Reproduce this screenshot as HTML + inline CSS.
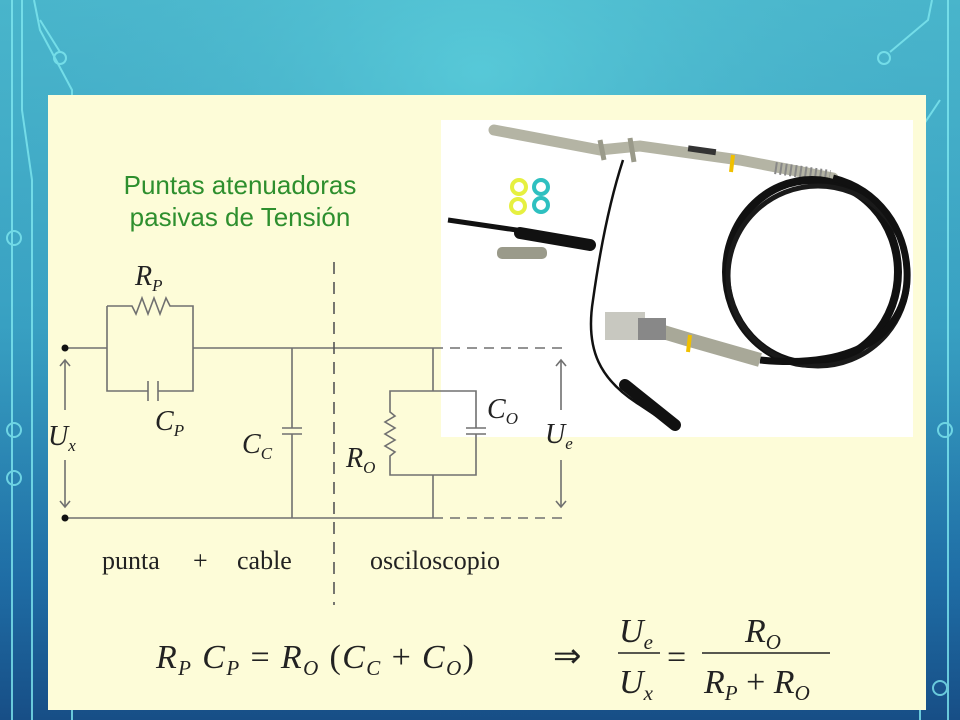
<!DOCTYPE html>
<html><head><meta charset="utf-8"><style>
html,body{margin:0;padding:0;width:960px;height:720px;overflow:hidden}
body{background:linear-gradient(180deg,#4fc3d4 0%,#3aa8c8 45%,#1f6ea6 80%,#174e86 100%)}
svg{position:absolute;left:0;top:0}
</style></head><body>
<svg width="960" height="720" viewBox="0 0 960 720" xmlns="http://www.w3.org/2000/svg">
<defs>
<radialGradient id="bg" cx="0.5" cy="0.1" r="0.9">
<stop offset="0" stop-color="#5fd0dc" stop-opacity="0.6"/><stop offset="1" stop-color="#1a5a92" stop-opacity="0"/>
</radialGradient>
</defs>
<rect width="960" height="720" fill="url(#bg)"/>
<g stroke="#7fe8f0" stroke-width="2" fill="none" opacity="0.8">
<path d="M12 0 V720"/><path d="M22 0 V110 L32 180 V720"/>
<path d="M34 0 L40 30 L72 90 V720"/>
<circle cx="60" cy="58" r="6"/><path d="M60 52 L40 20"/>
<circle cx="14" cy="238" r="7"/><circle cx="14" cy="430" r="7"/><circle cx="14" cy="478" r="7"/>
<path d="M948 0 V720"/><path d="M932 0 L928 20 L890 52"/><circle cx="884" cy="58" r="6"/>
<path d="M940 100 L920 130 V720"/><circle cx="940" cy="688" r="7"/><circle cx="945" cy="430" r="7"/>
</g>
<rect x="48" y="95" width="878" height="615" fill="#fdfcd8"/>
<rect x="441" y="120" width="472" height="317" fill="#ffffff"/>
<g>
<path d="M494 130 L600 150 L640 146 L740 160 L833 178" stroke="#b4b4a4" stroke-width="11" fill="none" stroke-linecap="round"/>
<path d="M600 140 L604 160 M630 138 L634 162" stroke="#9a9a8a" stroke-width="5"/>
<rect x="688" y="147" width="28" height="6" fill="#333" transform="rotate(8 700 150)"/>
<path d="M733 155 L731 172" stroke="#f0c000" stroke-width="4"/>
<path d="M775 168 L830 176" stroke="#888" stroke-width="12" stroke-dasharray="2 3"/>
<ellipse cx="812" cy="272" rx="86" ry="92" fill="none" stroke="#111" stroke-width="8"/>
<ellipse cx="818" cy="276" rx="90" ry="90" fill="none" stroke="#1a1a1a" stroke-width="5"/>
<path d="M833 178 C880 190 905 230 907 270 C910 330 860 370 760 360" stroke="#111" stroke-width="7" fill="none"/>
<path d="M760 360 L690 340 L640 325" stroke="#a8a898" stroke-width="14" fill="none"/>
<path d="M690 335 L688 352" stroke="#f0c000" stroke-width="4"/>
<rect x="605" y="312" width="40" height="28" fill="#c8c8c0"/>
<rect x="638" y="318" width="28" height="22" fill="#888"/>
<path d="M623 160 C610 200 600 250 593 300 C585 350 600 380 640 405 L670 425" stroke="#111" stroke-width="2.5" fill="none"/>
<path d="M625 385 L675 425" stroke="#111" stroke-width="12" stroke-linecap="round"/>
<path d="M448 220 L530 232 L590 243" stroke="#111" stroke-width="5"/>
<path d="M520 233 L590 245" stroke="#111" stroke-width="12" stroke-linecap="round"/>
<rect x="497" y="247" width="50" height="12" rx="5" fill="#9a9a8a"/>
<g fill="none" stroke-width="4"><circle cx="519" cy="187" r="7" stroke="#e6f040"/><circle cx="541" cy="187" r="7" stroke="#2ec0c0"/><circle cx="518" cy="206" r="7" stroke="#e6f040"/><circle cx="541" cy="205" r="7" stroke="#2ec0c0"/></g>
</g>
<g font-family="Liberation Sans, sans-serif" font-size="26" fill="#2e8f2e" text-anchor="middle">
<text x="240" y="194">Puntas atenuadoras</text><text x="240" y="226">pasivas de Tensión</text>
</g>
<g stroke="#707070" stroke-width="1.6" fill="none">
<path d="M65 348 H107 M107 306 V391 H148 M158 391 H193 V306 H170 L166 298 L160 314 L154 298 L148 314 L142 298 L136 314 L132 306 H107"/>
<path d="M148 381 V401 M158 381 V401"/>
<path d="M193 348 H433 M65 518 H433"/>
<path d="M292 348 V428 M282 428 H302 M282 434 H302 M292 434 V518"/>
<path d="M433 348 V391 H390 V412 L395 416 L385 422 L395 428 L385 434 L395 440 L385 446 L395 452 L390 456 V475 H476 V434 M466 434 H486 M466 428 H486 M476 428 V391 H433 M433 475 V518"/>
<path d="M433 348 H568 M433 518 H568" stroke-dasharray="10 7"/>
<path d="M334 262 V605" stroke="#555" stroke-dasharray="12 8"/>
<path d="M65 360 V410 M65 460 V507 M561 360 V410 M561 460 V507"/>
<path d="M60 366 L65 360 L70 366 M60 501 L65 507 L70 501 M556 366 L561 360 L566 366 M556 501 L561 507 L566 501"/>
</g>
<circle cx="65" cy="348" r="3.5" fill="#111"/><circle cx="65" cy="518" r="3.5" fill="#111"/>
<g font-family="Liberation Serif, serif" fill="#222" font-style="italic" font-size="28">
<text x="135" y="285">R<tspan font-size="17" dy="6">P</tspan></text>
<text x="155" y="430">C<tspan font-size="17" dy="6">P</tspan></text>
<text x="242" y="453">C<tspan font-size="17" dy="6">C</tspan></text>
<text x="346" y="467">R<tspan font-size="17" dy="6">O</tspan></text>
<text x="487" y="418">C<tspan font-size="17" dy="6">O</tspan></text>
<text x="48" y="445">U<tspan font-size="17" dy="6">x</tspan></text>
<text x="545" y="443">U<tspan font-size="17" dy="6">e</tspan></text>
</g>
<g font-family="Liberation Serif, serif" fill="#222" font-size="26">
<text x="102" y="569">punta</text><text x="193" y="569">+</text><text x="237" y="569">cable</text>
<text x="370" y="569">osciloscopio</text>
</g>
<g font-family="Liberation Serif, serif" fill="#222" font-size="34">
<text x="156" y="668" textLength="318"><tspan font-style="italic">R</tspan><tspan font-size="21" dy="7" font-style="italic">P</tspan><tspan dy="-7"> </tspan><tspan font-style="italic">C</tspan><tspan font-size="21" dy="7" font-style="italic">P</tspan><tspan dy="-7"> = </tspan><tspan font-style="italic">R</tspan><tspan font-size="21" dy="7" font-style="italic">O</tspan><tspan dy="-7"> (</tspan><tspan font-style="italic">C</tspan><tspan font-size="21" dy="7" font-style="italic">C</tspan><tspan dy="-7"> + </tspan><tspan font-style="italic">C</tspan><tspan font-size="21" dy="7" font-style="italic">O</tspan><tspan dy="-7">)</tspan></text>
<text x="553" y="667">⇒</text>
<text x="619" y="642" font-style="italic">U<tspan font-size="21" dy="7">e</tspan></text>
<text x="619" y="693" font-style="italic">U<tspan font-size="21" dy="7">x</tspan></text>
<text x="667" y="668">=</text>
<text x="745" y="642" font-style="italic">R<tspan font-size="21" dy="7">O</tspan></text>
<text x="704" y="693"><tspan font-style="italic">R</tspan><tspan font-size="21" dy="7" font-style="italic">P</tspan><tspan dy="-7"> + </tspan><tspan font-style="italic">R</tspan><tspan font-size="21" dy="7" font-style="italic">O</tspan></text>
</g>
<path d="M618 653 H660 M702 653 H830" stroke="#222" stroke-width="1.5"/>
</svg>
</body></html>
